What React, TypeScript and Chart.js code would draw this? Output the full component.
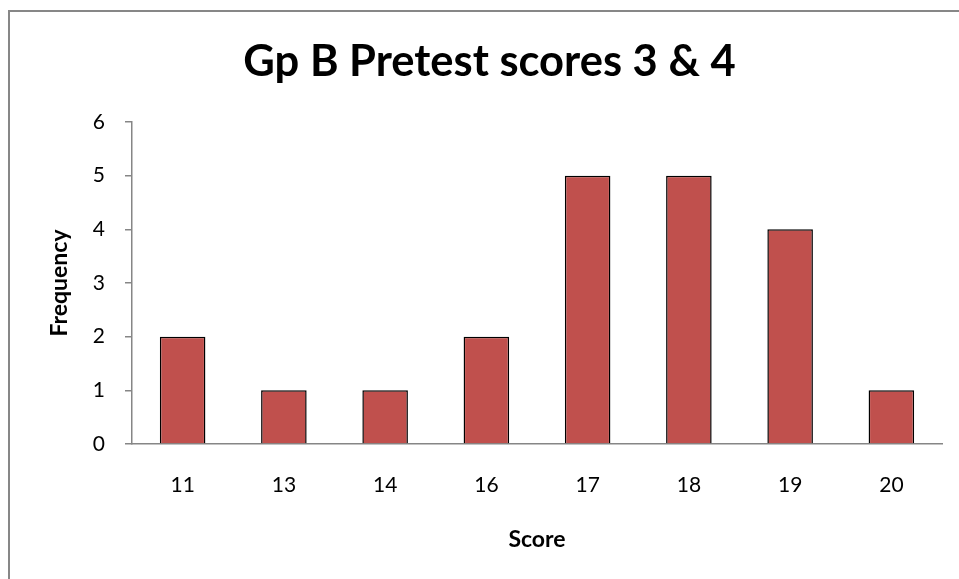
import React, { useEffect, useRef } from "react";
import { Chart, registerables } from "chart.js";

Chart.register(...registerables);

const categories = ["11", "13", "14", "16", "17", "18", "19", "20"];
const frequency = [2, 1, 1, 2, 5, 5, 4, 1];
const yMin = 0;
const yMax = 6;
const yStep = 1;
const chartTitle = "Gp B Pretest scores 3 & 4";
const xTitle = "Score";
const yTitle = "Frequency";

const FONT = "Lato, 'Open Sans', sans-serif";
const AXIS = "#868686";

export default function App() {
  const ref = useRef<HTMLCanvasElement>(null);

  useEffect(() => {
    if (!ref.current) return;
    const chart = new Chart(ref.current, {
      type: "bar",
      data: {
        labels: categories,
        datasets: [
          {
            data: frequency,
            backgroundColor: "#C0504D",
            borderColor: "#000000",
            borderWidth: 1.5,
            categoryPercentage: 1,
            barPercentage: 0.45,
          },
        ],
      },
      options: {
        responsive: false,
        animation: false,
        devicePixelRatio: 1,
        layout: { padding: { left: 37, right: 37, top: 0, bottom: 0 } },
        plugins: {
          legend: { display: false },
          tooltip: { enabled: false },
          title: {
            display: true,
            text: chartTitle,
            color: "#000000",
            font: { family: FONT, size: 43.5, weight: "bold" },
            padding: { top: 36, bottom: 33.8 },
          },
        },
        scales: {
          x: {
            grid: { display: false, drawTicks: false },
            border: { display: true, color: AXIS, width: 1.5 },
            ticks: { color: "#000000", font: { family: FONT, size: 21 }, padding: 29 },
            title: {
              display: true,
              text: xTitle,
              color: "#000000",
              font: { family: FONT, size: 23, weight: "bold" },
              padding: { top: 0, bottom: 26 },
            },
            afterFit: (s: any) => {
              s.height = 135;
            },
          },
          y: {
            min: yMin,
            max: yMax,
            grid: { drawOnChartArea: false, tickLength: 7, color: AXIS, lineWidth: 1.5 },
            border: { display: true, color: AXIS, width: 1.5 },
            ticks: { stepSize: yStep, color: "#000000", font: { family: FONT, size: 21 }, padding: 20 },
            title: {
              display: true,
              text: yTitle,
              color: "#000000",
              font: { family: FONT, size: 23, weight: "bold" },
              padding: { top: 9, bottom: 0 },
            },
            afterFit: (s: any) => {
              s.width = 95;
            },
          },
        },
      },
    });
    return () => chart.destroy();
  }, []);

  return (
    <div
      style={{
        position: "fixed",
        left: 0,
        top: 0,
        width: 959,
        height: 579,
        overflow: "hidden",
        background: "#ffffff",
      }}
    >
      <canvas ref={ref} width={979} height={579} style={{ position: "absolute", left: 0, top: 0 }} />
      <div
        style={{
          position: "absolute",
          left: 8,
          top: 10,
          width: 960,
          height: 580,
          borderLeft: "2px solid #878787",
          borderTop: "2px solid #878787",
          pointerEvents: "none",
        }}
      />
    </div>
  );
}
